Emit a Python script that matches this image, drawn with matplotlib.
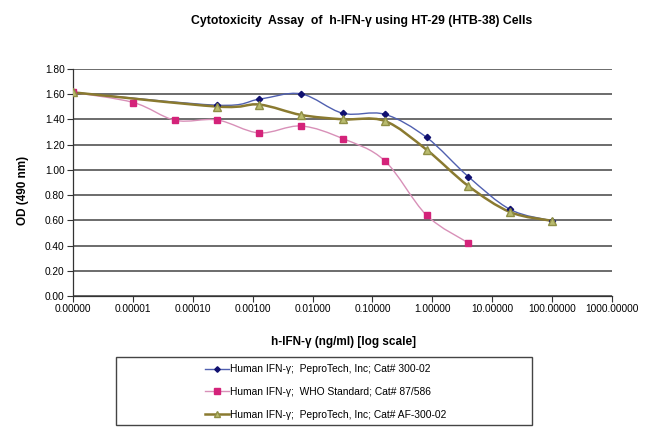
import matplotlib
matplotlib.use("Agg")
import matplotlib.pyplot as plt
import numpy as np
from matplotlib.lines import Line2D
from matplotlib.patches import PathPatch, Rectangle
from matplotlib.path import Path

plt.rcParams["font.family"] = ["Liberation Sans", "DejaVu Sans"]

# concentrations (ng/ml); 1e-6 stands in for the zero-dose point
conc_blue = [1e-6, 0.000256, 0.00128, 0.0064, 0.032, 0.16, 0.8, 4, 20, 100]
od_blue = [1.615, 1.513, 1.56, 1.603, 1.449, 1.441, 1.258, 0.946, 0.686, 0.596]

conc_who = [1e-6, 1.024e-5, 5.12e-5, 0.000256, 0.00128, 0.0064, 0.032, 0.16, 0.8, 4]
od_who = [1.615, 1.534, 1.393, 1.396, 1.293, 1.348, 1.248, 1.073, 0.641, 0.421]

conc_af = [1e-6, 0.000256, 0.00128, 0.0064, 0.032, 0.16, 0.8, 4, 20, 100]
od_af = [1.615, 1.502, 1.518, 1.436, 1.401, 1.388, 1.16, 0.872, 0.665, 0.596]

labels = [
    "Human IFN-\u03b3;  PeproTech, Inc; Cat# 300-02",
    "Human IFN-\u03b3;  WHO Standard; Cat# 87/586",
    "Human IFN-\u03b3;  PeproTech, Inc; Cat# AF-300-02",
]

x_ticks = [1e-6, 1e-5, 1e-4, 1e-3, 1e-2, 1e-1, 1, 10, 100, 1000]
y_ticks = [0.0, 0.2, 0.4, 0.6, 0.8, 1.0, 1.2, 1.4, 1.6, 1.8]


def smooth_path(x, y):
    # Excel-style smoothed line: Catmull-Rom bezier in (log x, y) space
    p = np.column_stack([np.log10(x), y])
    n = len(p)
    verts = [p[0]]
    codes = [Path.MOVETO]
    for i in range(n - 1):
        p0 = p[i - 1] if i > 0 else p[i]
        p1 = p[i]
        p2 = p[i + 1]
        p3 = p[i + 2] if i + 2 < n else p[i + 1]
        verts += [p1 + (p2 - p0) / 6, p2 - (p3 - p1) / 6, p2]
        codes += [Path.CURVE4] * 3
    verts = np.array(verts)
    verts[:, 0] = 10 ** verts[:, 0]
    return Path(verts, codes)


fig = plt.figure(figsize=(6.5, 4.42), dpi=100)
ax = fig.add_axes([0.1123, 0.3303, 0.8292, 0.5136])

series = [
    (conc_blue, od_blue, "#5060b0", 1.0, dict(marker="D", ms=3.2, mfc="#101070", mec="#101070"), 2.8),
    (conc_who, od_who, "#d890b8", 1.0, dict(marker="s", ms=4.5, mfc="#d4237a", mec="#d4237a"), 3.8),
    (conc_af, od_af, "#8a7a30", 1.8, dict(marker="^", ms=6, mfc="#b9bb6e", mec="#8f8f45"), 3.8),
]

handles = []
for (xs, ys, lc, lw, mk, hms), lab in zip(series, labels):
    ax.add_patch(PathPatch(smooth_path(xs, ys), fill=False, edgecolor=lc, lw=lw, zorder=3))
    ax.plot(xs, ys, linestyle="none", zorder=4, **mk)
    hk = dict(mk, ms=hms)
    handles.append(Line2D([], [], color=lc, lw=lw, **hk))

ax.set_xscale("log")
ax.set_xlim(1e-6, 1e3)
ax.set_ylim(0, 1.8)
ax.set_xticks(x_ticks)
ax.set_xticklabels([f"{v:.5f}" for v in x_ticks])
ax.xaxis.set_minor_locator(plt.NullLocator())
ax.set_yticks(y_ticks)
ax.set_yticklabels([f"{v:.2f}" for v in y_ticks])
ax.tick_params(labelsize=7.3, length=4, width=0.8, color="#333333", pad=2)

ax.grid(True, axis="y", color="#444444", lw=1.1)
ax.set_axisbelow(True)
for s in ["top", "right"]:
    ax.spines[s].set_visible(False)
for s in ["left", "bottom"]:
    ax.spines[s].set_color("#333333")
    ax.spines[s].set_linewidth(0.9)

fig.text(0.556, 0.953, "Cytotoxicity  Assay  of  h-IFN-\u03b3 using HT-29 (HTB-38) Cells",
         ha="center", va="center", fontsize=8.8, fontweight="bold")
fig.text(0.529, 0.226, "h-IFN-\u03b3 (ng/ml) [log scale]",
         ha="center", va="center", fontsize=8.5, fontweight="bold")
fig.text(0.035, 0.57, "OD (490 nm)", rotation=90,
         ha="center", va="center", fontsize=8.5, fontweight="bold")

# legend box below the axes
fig.patches.append(Rectangle((116 / 650, 1 - 425 / 442), 416 / 650, 68 / 442,
                             transform=fig.transFigure, fill=False,
                             edgecolor="#444444", lw=1.0))
fig.legend(handles, labels, loc="upper left", bbox_to_anchor=(201 / 650, 1 - 360 / 442),
           frameon=False, fontsize=7.4, handlelength=2.3, handletextpad=0.1,
           labelspacing=1.25, borderaxespad=0)

fig.savefig("out.png", dpi=100)
